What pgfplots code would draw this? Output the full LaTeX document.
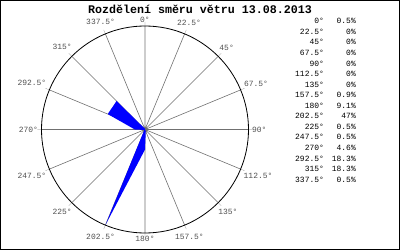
\documentclass[border=0pt]{standalone}
\usepackage{pgfplots}
\pgfplotsset{compat=1.18}
\usepgfplotslibrary{polar}
\usepackage{fontspec}
\setmainfont{Liberation Mono}
\definecolor{lbl}{HTML}{505050}
\definecolor{spk}{HTML}{707070}
\begin{document}
\begin{tikzpicture}[x=1bp,y=1bp]
\useasboundingbox (0,0) rectangle (400,250);
\draw[line width=1bp] (0.5,0.5) rectangle (399.5,249.5);
\node[font=\fontsize{11.7}{12}\selectfont\bfseries] at (200,241) {Rozdělení směru větru 13.08.2013};
\begin{polaraxis}[
  at={(145bp,120.5bp)}, anchor=center,
  scale only axis, width=207bp, height=207bp,
  ymin=0, ymax=47, ytick=\empty,
  xtick={0,22.5,...,337.5},
  xticklabels={90°,67.5°,45°,22.5°,0°,337.5°,315°,292.5°,270°,247.5°,225°,202.5°,180°,157.5°,135°,112.5°},
  xmajorgrids, major grid style={color=spk, line width=0.6bp},
  axis line style={black, line width=0.8bp},
  y axis line style={draw=none},
  tick label style={font=\fontsize{8}{9}\selectfont, text=lbl},
  x filter/.expression={90-x},
]
\addplot[fill=blue, draw=none] coordinates {
(0,0.5) (22.5,0) (45,0) (67.5,0) (90,0) (112.5,0) (135,0) (157.5,0.9)
(180,9.1) (202.5,47) (225,0.5) (247.5,0.5) (270,4.6) (292.5,18.3)
(315,18.3) (337.5,0.5) (360,0.5)};
\end{polaraxis}
\node[anchor=north east, inner sep=0pt, font=\fontsize{8}{10.6}\selectfont] at (356,233.8) {%
\renewcommand{\arraystretch}{1}%
\begin{tabular}{@{}r@{\hspace{8bp}}r@{}}
0° & 0.5\% \\
22.5° & 0\% \\
45° & 0\% \\
67.5° & 0\% \\
90° & 0\% \\
112.5° & 0\% \\
135° & 0\% \\
157.5° & 0.9\% \\
180° & 9.1\% \\
202.5° & 47\% \\
225° & 0.5\% \\
247.5° & 0.5\% \\
270° & 4.6\% \\
292.5° & 18.3\% \\
315° & 18.3\% \\
337.5° & 0.5\%
\end{tabular}};
\end{tikzpicture}
\end{document}
